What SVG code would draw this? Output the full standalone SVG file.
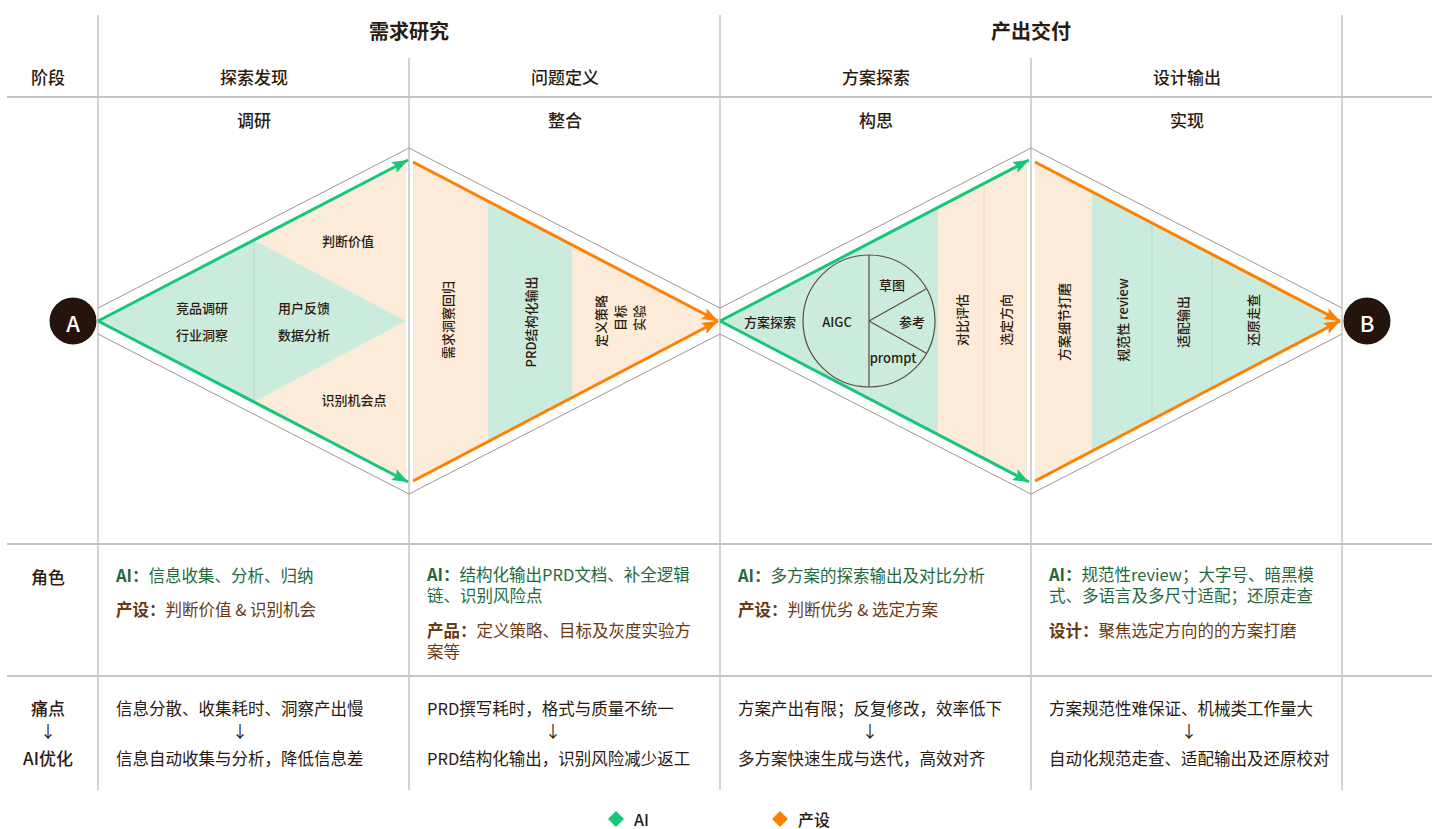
<svg xmlns="http://www.w3.org/2000/svg" width="1440" height="829" viewBox="0 0 1440 829">
<style>
text{font-family:"Noto Sans CJK SC","Noto Sans",sans-serif;fill:#2b1a10;dominant-baseline:central}
.h1{font-size:20px;font-weight:700;text-anchor:middle}
.h2{font-size:17px;font-weight:500;text-anchor:middle}
.d{font-size:13px;font-weight:500;text-anchor:middle}
.r{font-size:16.5px}
.g{fill:#1f6a3d}
.b{fill:#6b3a12}
.bold{font-weight:700}
.c{text-anchor:middle}
.grid{stroke:#aaa39e;stroke-width:1;fill:none}
.hgrid{stroke:#c9c3bf;stroke-width:2;fill:none}
.outline{stroke:#9e958f;stroke-width:1;fill:none}
.ga{stroke:#17c67a;stroke-width:3;fill:none;marker-end:url(#ag)}
.oa{stroke:#ff8000;stroke-width:3;fill:none;marker-end:url(#ao)}
.gf{fill:#cbecdc}
.pf{fill:#fdebd9}
.sep{stroke:#b9d9c8;stroke-width:1}
.sepp{stroke:#efd9c4;stroke-width:1}
</style>
<defs>
<marker id="ag" markerUnits="userSpaceOnUse" markerWidth="18" markerHeight="14" refX="16" refY="6" orient="auto"><path d="M0,0 L16,6 L0,12 L3,6 z" fill="#17c67a"/></marker>
<marker id="ao" markerUnits="userSpaceOnUse" markerWidth="18" markerHeight="14" refX="16" refY="6" orient="auto"><path d="M0,0 L16,6 L0,12 L3,6 z" fill="#ff8000"/></marker>
</defs>
<rect width="1440" height="829" fill="#fff"/>
<g id="grid">
<path class="grid" d="M98,15V790M409,58V790M720,15V790M1031,58V790M1342,15V790"/>
<path class="hgrid" d="M7,97H1432M7,544H1432M7,676H1432"/>
</g>
<g id="headers">
<text class="h1" x="409" y="30">需求研究</text>
<text class="h1" x="1031" y="30">产出交付</text>
<text class="h2" x="48" y="76">阶段</text>
<text class="h2" x="254" y="76">探索发现</text>
<text class="h2" x="565" y="76">问题定义</text>
<text class="h2" x="876" y="76">方案探索</text>
<text class="h2" x="1187" y="76">设计输出</text>
<text class="h2" x="254" y="119">调研</text>
<text class="h2" x="565" y="119">整合</text>
<text class="h2" x="876" y="119">构思</text>
<text class="h2" x="1187" y="119">实现</text>
</g>
<g id="outlines">
<path class="outline" d="M98,308L409,148L720,308L1031,148L1342,308"/>
<path class="outline" d="M98,334L409,494L720,334L1031,494L1342,334"/>
</g>
<g id="stage1">
<polygon class="pf" points="254,240 406,161 406,321"/>
<polygon class="pf" points="254,402 406,481 406,321"/>
<polygon class="gf" points="98,321 254,240 406,321 254,402"/>
<line class="sep" x1="254" y1="241" x2="254" y2="401"/>
<text class="d" x="202" y="307">竞品调研</text>
<text class="d" x="202" y="334">行业洞察</text>
<text class="d" x="304" y="307">用户反馈</text>
<text class="d" x="304" y="334">数据分析</text>
<text class="d" x="348" y="240">判断价值</text>
<text class="d" x="354" y="399">识别机会点</text>
</g>
<g id="stage2">
<polygon class="pf" points="413,162 718,321 413,481"/>
<polygon class="gf" points="488,201 572,245 572,398 488,442"/>
<text class="d" transform="translate(447,320) rotate(-90)">需求洞察回归</text>
<text class="d" transform="translate(530,322) rotate(-90)">PRD结构化输出</text>
<text class="d" transform="translate(600,321) rotate(-90)">定义策略</text>
<text class="d" transform="translate(619,318) rotate(-90)">目标</text>
<text class="d" transform="translate(638,318) rotate(-90)">实验</text>
</g>
<g id="stage3">
<polygon class="pf" points="938,207 1027,161 1027,481 938,435"/>
<polygon class="gf" points="720,321 938,207 938,435"/>
<line class="sepp" x1="984" y1="184" x2="984" y2="458"/>
<circle cx="869" cy="321" r="66" fill="#cbecdc" stroke="#5a4a42" stroke-width="1.2"/>
<path d="M869,255V387M869,321L926,289M869,321L926,353" stroke="#5a4a42" stroke-width="1.2" fill="none"/>
<text class="d" x="770" y="321">方案探索</text>
<text class="d" x="837" y="321">AIGC</text>
<text class="d" x="892" y="284">草图</text>
<text class="d" x="912" y="321">参考</text>
<text class="d" x="893" y="357">prompt</text>
<text class="d" transform="translate(961,320) rotate(-90)">对比评估</text>
<text class="d" transform="translate(1005,320) rotate(-90)">选定方向</text>
</g>
<g id="stage4">
<polygon class="pf" points="1035,162 1092,192 1092,451 1035,481"/>
<polygon class="gf" points="1092,192 1340,321 1092,451"/>
<line class="sep" x1="1152" y1="223" x2="1152" y2="420"/>
<line class="sep" x1="1212" y1="254" x2="1212" y2="389"/>
<text class="d" transform="translate(1063,322) rotate(-90)">方案细节打磨</text>
<text class="d" transform="translate(1122,320) rotate(-90)">规范性 review</text>
<text class="d" transform="translate(1182,322) rotate(-90)">适配输出</text>
<text class="d" transform="translate(1252,320) rotate(-90)">还原走查</text>
</g>
<g id="connectors">
<line class="ga" x1="98" y1="321" x2="408" y2="160"/>
<line class="ga" x1="98" y1="321" x2="408" y2="482"/>
<line class="oa" x1="413" y1="162" x2="718" y2="321"/>
<line class="oa" x1="413" y1="481" x2="718" y2="321"/>
<line class="ga" x1="720" y1="321" x2="1029" y2="160"/>
<line class="ga" x1="720" y1="321" x2="1029" y2="482"/>
<line class="oa" x1="1035" y1="162" x2="1340" y2="321"/>
<line class="oa" x1="1035" y1="481" x2="1340" y2="321"/>
</g>
<g id="nodeA">
<circle cx="73" cy="321" r="23.5" fill="#24140c"/>
<text x="73" y="322" style="fill:#fff;font-size:22px;font-weight:500;text-anchor:middle">A</text>
</g>
<g id="nodeB">
<circle cx="1367" cy="321" r="23.5" fill="#24140c"/>
<text x="1367" y="322" style="fill:#fff;font-size:22px;font-weight:500;text-anchor:middle">B</text>
</g>
<g id="roles">
<text class="h2" x="48" y="576">角色</text>
<text class="r g" x="116" y="575"><tspan class="bold">AI：</tspan>信息收集、分析、归纳</text>
<text class="r b" x="116" y="609"><tspan class="bold">产设：</tspan>判断价值 &amp; 识别机会</text>
<text class="r g" x="427" y="574"><tspan class="bold">AI：</tspan>结构化输出PRD文档、补全逻辑<tspan x="427" dy="21">链、识别风险点</tspan></text>
<text class="r b" x="427" y="630"><tspan class="bold">产品：</tspan>定义策略、目标及灰度实验方<tspan x="427" dy="21">案等</tspan></text>
<text class="r g" x="738" y="575"><tspan class="bold">AI：</tspan>多方案的探索输出及对比分析</text>
<text class="r b" x="738" y="609"><tspan class="bold">产设：</tspan>判断优劣 &amp; 选定方案</text>
<text class="r g" x="1049" y="574"><tspan class="bold">AI：</tspan>规范性review；大字号、暗黑模<tspan x="1049" dy="21">式、多语言及多尺寸适配；还原走查</tspan></text>
<text class="r b" x="1049" y="630"><tspan class="bold">设计：</tspan>聚焦选定方向的的方案打磨</text>
</g>
<g id="pain">
<text class="h2" x="48" y="707">痛点</text>
<text class="r c" x="48" y="731">↓</text>
<text class="h2" x="48" y="757">AI优化</text>
<text class="r" x="116" y="708">信息分散、收集耗时、洞察产出慢</text>
<text class="r c" x="240" y="731">↓</text>
<text class="r" x="116" y="758">信息自动收集与分析，降低信息差</text>
<text class="r" x="427" y="708">PRD撰写耗时，格式与质量不统一</text>
<text class="r c" x="553" y="731">↓</text>
<text class="r" x="427" y="758">PRD结构化输出，识别风险减少返工</text>
<text class="r" x="738" y="708">方案产出有限；反复修改，效率低下</text>
<text class="r c" x="870" y="731">↓</text>
<text class="r" x="738" y="758">多方案快速生成与迭代，高效对齐</text>
<text class="r" x="1049" y="708">方案规范性难保证、机械类工作量大</text>
<text class="r c" x="1189" y="731">↓</text>
<text class="r" x="1049" y="758">自动化规范走查、适配输出及还原校对</text>
</g>
<g id="legend">
<polygon points="616,811 624,819 616,827 608,819" fill="#17c67a"/>
<text x="634" y="819" style="font-size:16px;font-weight:500">AI</text>
<polygon points="780,811 788,819 780,827 772,819" fill="#ff8000"/>
<text x="798" y="819" style="font-size:16px;font-weight:500">产设</text>
</g>
</svg>
